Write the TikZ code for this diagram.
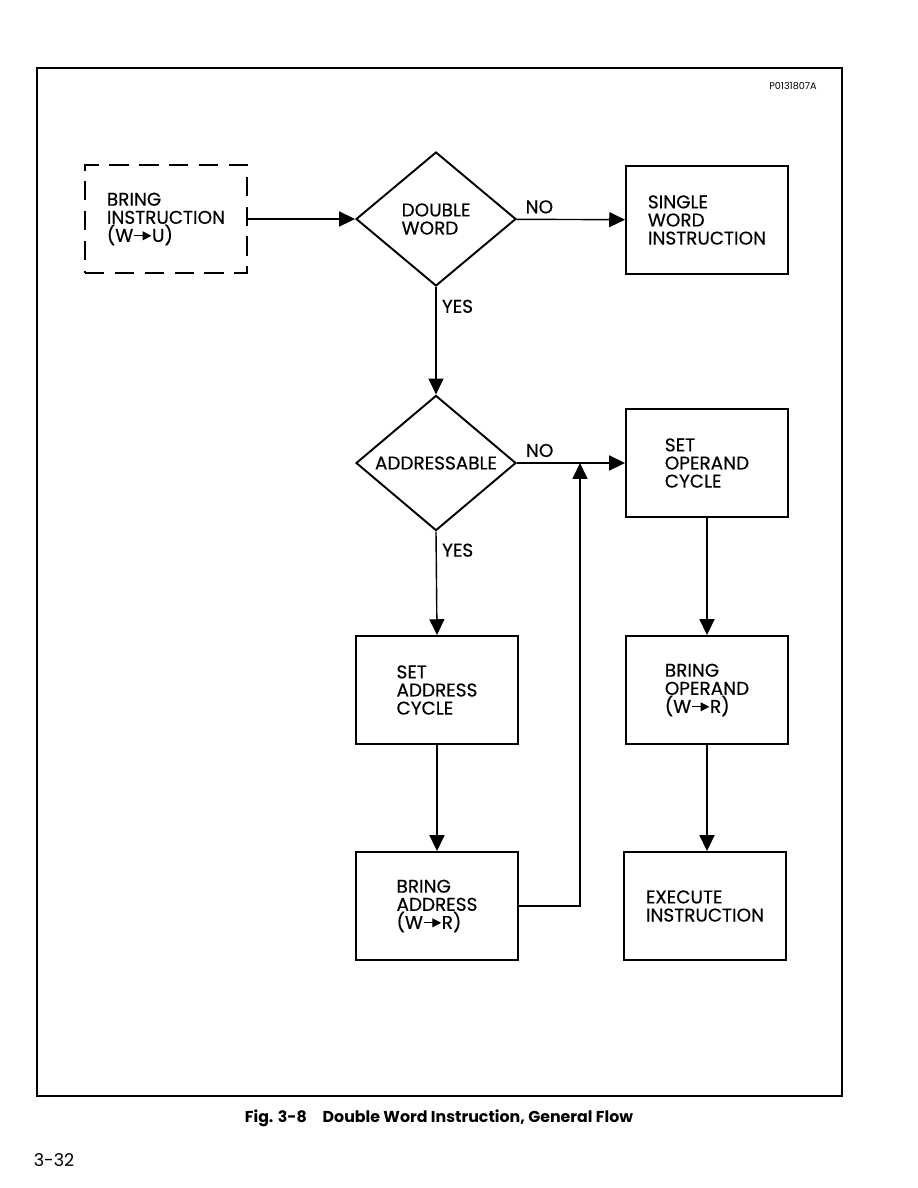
\documentclass[tikz,border=0pt]{standalone}
\usepackage{fontspec}
\setmainfont{Poppins}
\newfontfamily\boxfont{Poppins}[FakeBold=0.4]
\usetikzlibrary{shapes.geometric, arrows.meta, positioning}
\newcommand{\wto}{\tikz[baseline=-0.6ex]\draw[line width=0.7pt,-{Triangle[length=5pt,width=5pt]}] (0,0) -- (10pt,0);}

\begin{document}
\begin{tikzpicture}[
    x=0.02cm, y=-0.02cm,
    every node/.style={font=\boxfont\fontsize{10.5}{10.3}\selectfont},
    block/.style={rectangle, draw, line width=1.1pt, minimum width=3.24cm,
                  minimum height=2.16cm, align=left, inner sep=0pt},
    dashblock/.style={block, dash pattern=on 11pt off 6pt},
    decision/.style={diamond, draw, line width=1.1pt, minimum width=3.2cm,
                     minimum height=2.68cm, align=left, inner sep=0pt},
    arrow/.style={line width=0.8pt, -{Triangle[length=9pt, width=8.5pt]}},
    lbl/.style={inner sep=3pt}
]
\useasboundingbox (0,0) rectangle (918,1188);
\draw[line width=0.8pt] (37,68) rectangle (842,1096);
\node[font=\fontsize{5.5}{6}\selectfont] (figno) at (793,86) {P0131807A};

\node[dashblock] (bringinstr) at (166,219) {BRING\\INSTRUCTION\\(W\wto U)};
\node[decision] (dblword) at (436,219) {DOUBLE\\WORD};
\node[block] (single) at (707,220) {SINGLE\\WORD\\INSTRUCTION};
\node[decision] (addr) at (436,463) {ADDRESSABLE};
\node[block] (setop) at (707,463) {SET\\OPERAND\\CYCLE};
\node[block] (setaddr) at (437,690) {SET\\ADDRESS\\CYCLE};
\node[block] (bringaddr) at (437,906) {BRING\\ADDRESS\\(W\wto R)};
\node[block] (bringop) at (707,690) {BRING\\OPERAND\\(W\wto R)};
\node[block] (exec) at (705,906) {EXECUTE\\INSTRUCTION};
\coordinate (merge) at (580,463);

\draw[arrow] (bringinstr) -- (dblword);
\draw[arrow] (dblword) -- node[lbl, pos=0.21, above]{NO} (single);
\draw[arrow] (dblword) -- node[lbl, pos=0.18, right]{YES} (addr);
\draw[arrow] (addr) -- node[lbl, pos=0.21, above]{NO} (setop);
\draw[arrow] (addr.south) -- node[lbl, pos=0.18, right]{YES} (setaddr.north);
\draw[arrow] (setaddr) -- (bringaddr);
\draw[arrow] (bringaddr.east) -| (merge);
\draw[arrow] (setop) -- (bringop);
\draw[arrow] (bringop.south) -- (exec.north -| bringop.south);

\node[font=\bfseries\fontsize{9}{11}\selectfont] (caption) at (439,1118)
    {Fig. 3-8\quad Double Word Instruction, General Flow};
\node[font=\fontsize{10}{12}\selectfont] (page) at (54,1160) {3-32};
\end{tikzpicture}
\end{document}
